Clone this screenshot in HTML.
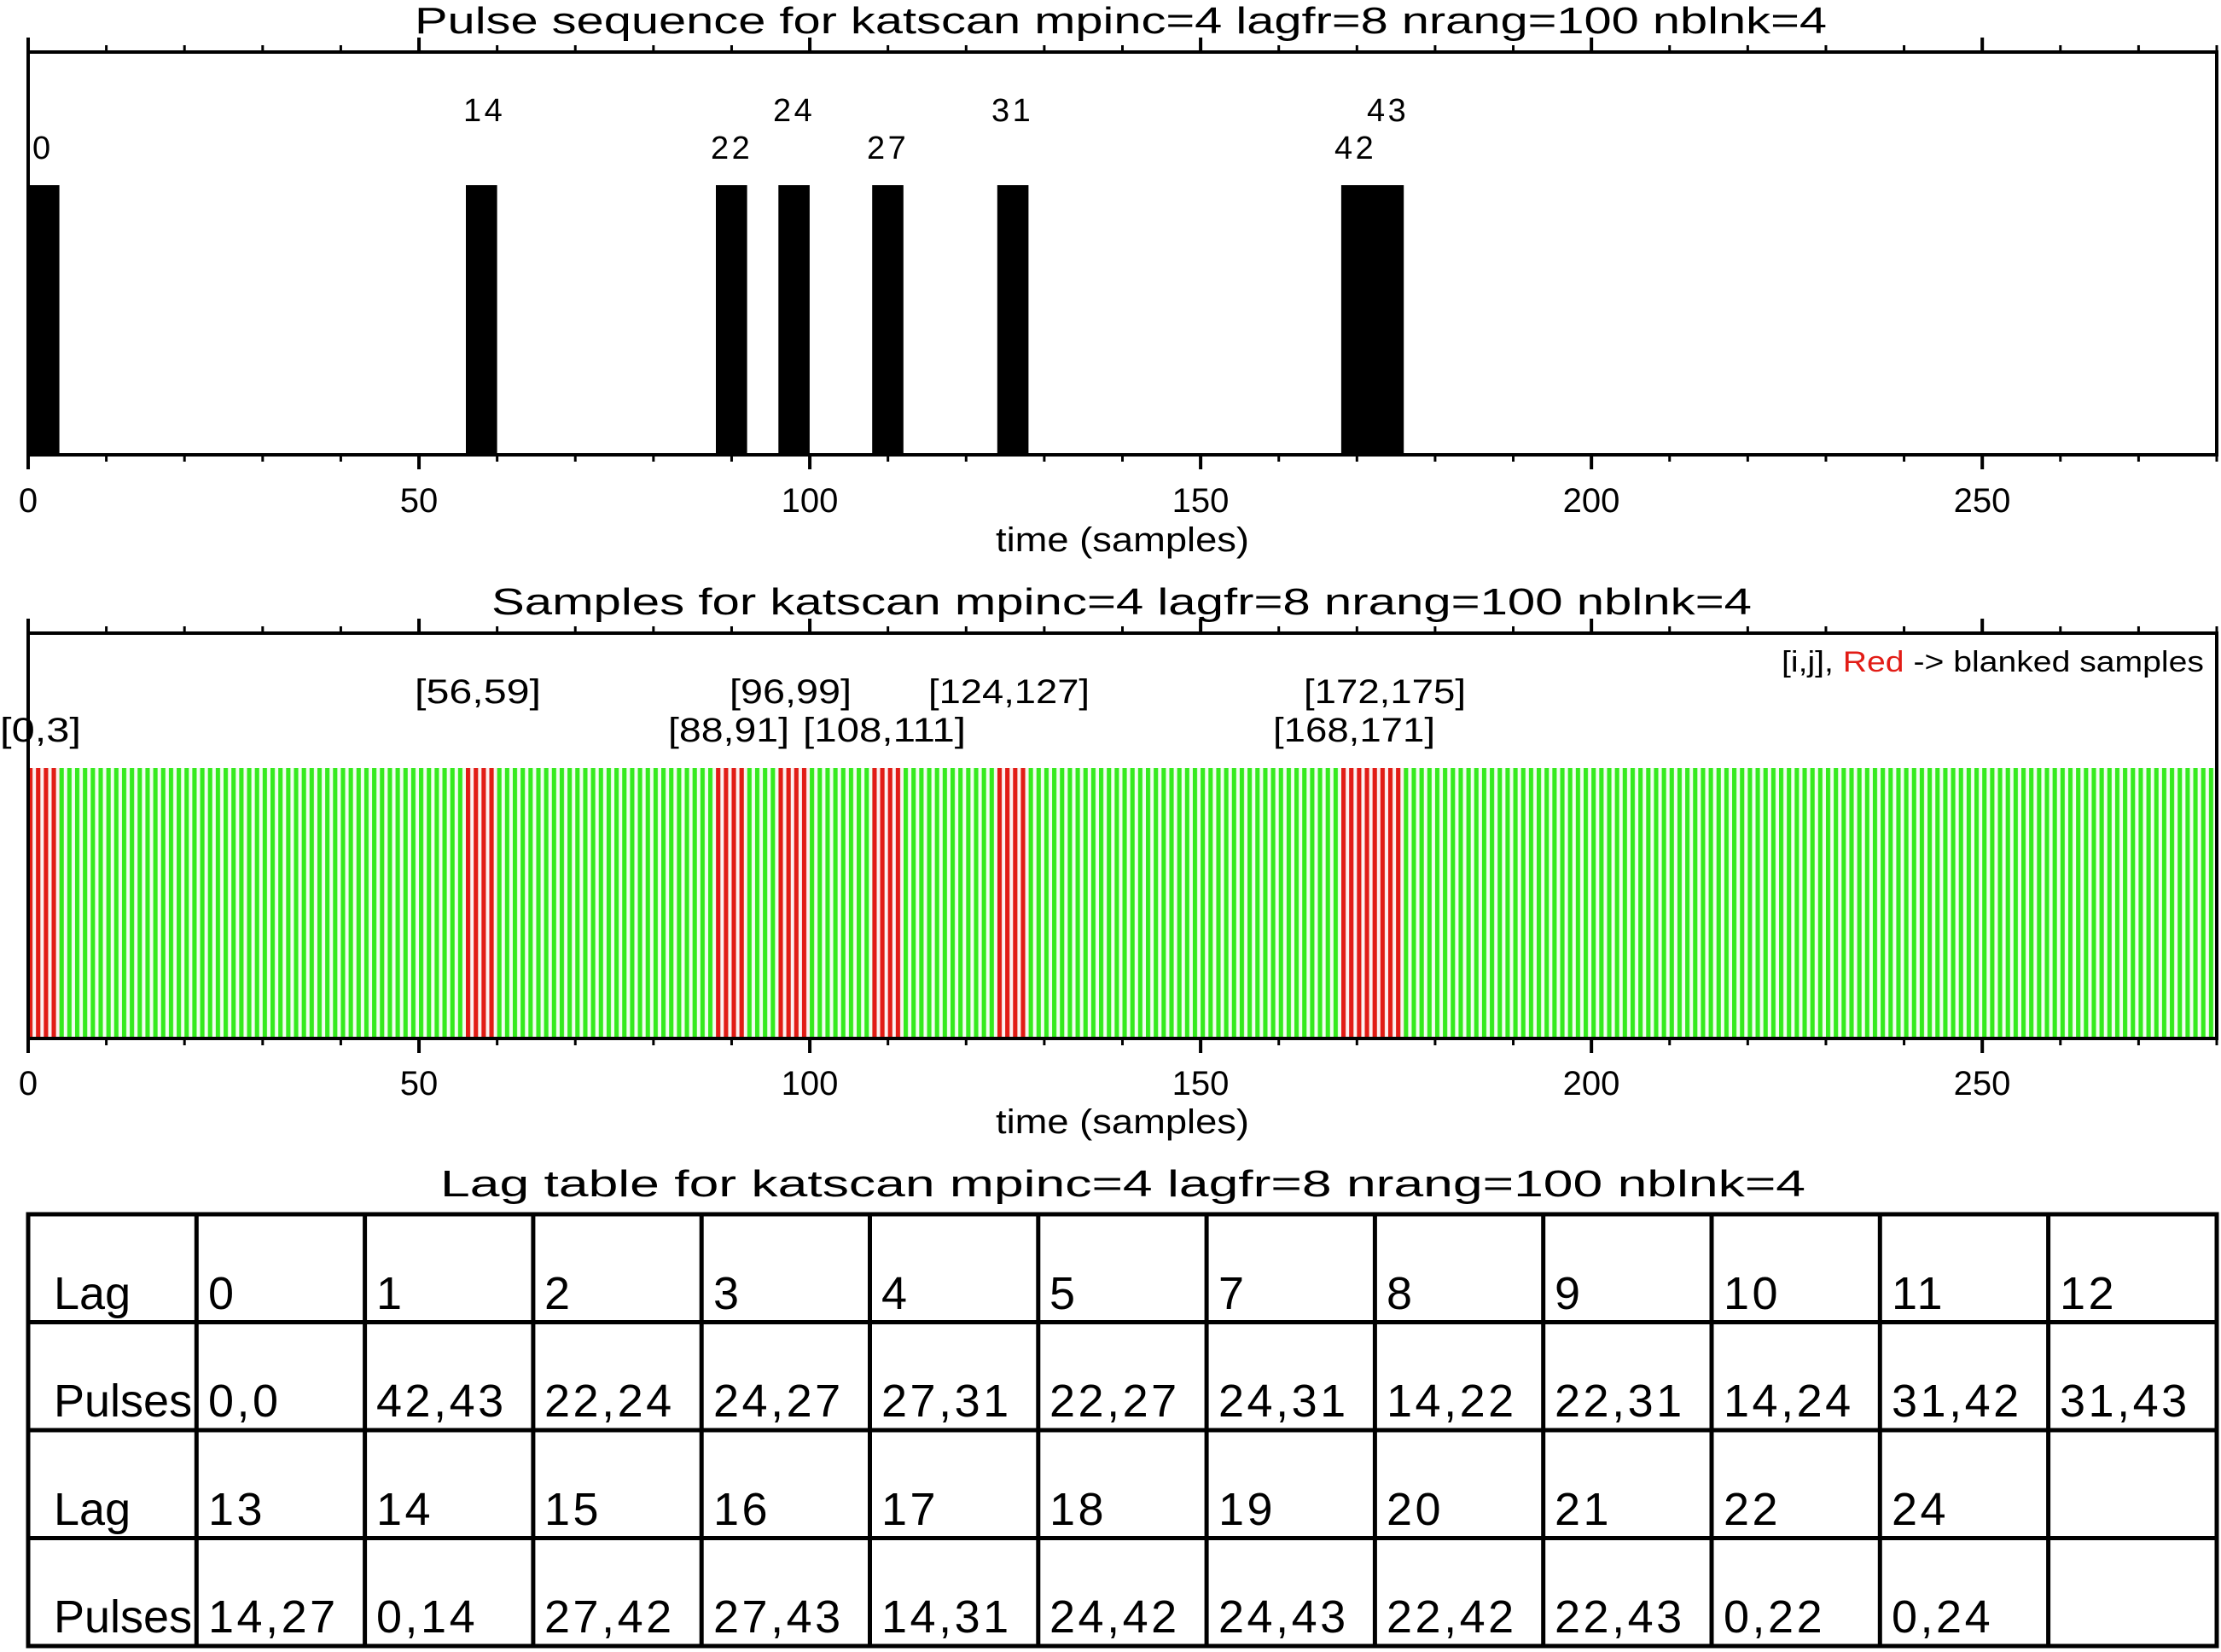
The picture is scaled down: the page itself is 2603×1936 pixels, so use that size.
<!DOCTYPE html>
<html><head><meta charset="utf-8"><style>
html,body{margin:0;padding:0;background:#fff;}
svg{display:block;}
text{font-family:"Liberation Sans",sans-serif;fill:#000;}
.n{letter-spacing:3.5px;}
</style></head><body>
<svg width="2603" height="1936" viewBox="0 0 2603 1936" xmlns="http://www.w3.org/2000/svg">
<defs>
<pattern id="g" x="33" y="0" width="9.1607" height="10" patternUnits="userSpaceOnUse"><rect x="0" y="0" width="5.2" height="10" fill="#35ea1e"/><rect x="5.2" y="0" width="3.96" height="10" fill="#f2fdf0"/></pattern>
<pattern id="r" x="33" y="0" width="9.1607" height="10" patternUnits="userSpaceOnUse"><rect x="0" y="0" width="5.2" height="10" fill="#e21c16"/><rect x="5.2" y="0" width="3.96" height="10" fill="#fdf0f0"/></pattern>
<pattern id="mn" x="31.5" y="0" width="91.607" height="10" patternUnits="userSpaceOnUse"><rect x="0" y="0" width="3" height="10" fill="#000"/></pattern>
<pattern id="mj" x="31" y="0" width="458.04" height="10" patternUnits="userSpaceOnUse"><rect x="0" y="0" width="4" height="10" fill="#000"/></pattern>
</defs>

<text x="486" y="39" font-size="44" textLength="1655" lengthAdjust="spacingAndGlyphs">Pulse sequence for katscan mpinc=4 lagfr=8 nrang=100 nblnk=4</text>
<g fill="#000">
<rect x="33" y="217" width="36.6" height="316"/>
<rect x="546" y="217" width="36.6" height="316"/>
<rect x="839" y="217" width="36.6" height="316"/>
<rect x="912.3" y="217" width="36.6" height="316"/>
<rect x="1022.2" y="217" width="36.6" height="316"/>
<rect x="1168.8" y="217" width="36.6" height="316"/>
<rect x="1571.9" y="217" width="73.3" height="316"/>
</g>
<rect x="33" y="61" width="2565" height="472" fill="none" stroke="#000" stroke-width="4"/>
<rect x="31" y="53" width="2570" height="8" fill="url(#mn)"/>
<rect x="31" y="44" width="2570" height="17" fill="url(#mj)"/>
<rect x="31" y="533" width="2570" height="8" fill="url(#mn)"/>
<rect x="31" y="533" width="2570" height="17" fill="url(#mj)"/>
<g font-size="38" class="n">
<text x="38" y="186">0</text>
<text x="543" y="142">14</text>
<text x="833" y="186">22</text>
<text x="906" y="142">24</text>
<text x="1016" y="186">27</text>
<text x="1162" y="142">31</text>
<text x="1564" y="186">42</text>
<text x="1602" y="142">43</text>
</g>
<g font-size="40" text-anchor="middle">
<text x="33" y="600">0</text>
<text x="491" y="600">50</text>
<text x="949" y="600">100</text>
<text x="1407" y="600">150</text>
<text x="1865" y="600">200</text>
<text x="2323" y="600">250</text>
</g>
<text x="1167" y="646" font-size="40" textLength="297" lengthAdjust="spacingAndGlyphs">time (samples)</text>

<text x="576" y="720" font-size="44" textLength="1477" lengthAdjust="spacingAndGlyphs">Samples for katscan mpinc=4 lagfr=8 nrang=100 nblnk=4</text>
<rect x="33" y="900" width="2563" height="317" fill="url(#g)"/>
<g fill="url(#r)">
<rect x="33" y="900" width="36.6" height="317"/>
<rect x="546" y="900" width="36.6" height="317"/>
<rect x="839" y="900" width="36.6" height="317"/>
<rect x="912.3" y="900" width="36.6" height="317"/>
<rect x="1022.2" y="900" width="36.6" height="317"/>
<rect x="1168.8" y="900" width="36.6" height="317"/>
<rect x="1571.9" y="900" width="73.3" height="317"/>
</g>
<rect x="33" y="742" width="2565" height="475" fill="none" stroke="#000" stroke-width="4"/>
<rect x="31" y="734" width="2570" height="8" fill="url(#mn)"/>
<rect x="31" y="725" width="2570" height="17" fill="url(#mj)"/>
<rect x="31" y="1217" width="2570" height="8" fill="url(#mn)"/>
<rect x="31" y="1217" width="2570" height="17" fill="url(#mj)"/>
<text x="2088" y="787" font-size="34" textLength="495" lengthAdjust="spacingAndGlyphs">[i,j], <tspan fill="#e21c16">Red</tspan> -&gt; blanked samples</text>
<g font-size="40">
<text x="0" y="869" textLength="95" lengthAdjust="spacingAndGlyphs">[0,3]</text>
<text x="486" y="824" textLength="148" lengthAdjust="spacingAndGlyphs">[56,59]</text>
<text x="783" y="869" textLength="142" lengthAdjust="spacingAndGlyphs">[88,91]</text>
<text x="855" y="824" textLength="143" lengthAdjust="spacingAndGlyphs">[96,99]</text>
<text x="941" y="869" textLength="191" lengthAdjust="spacingAndGlyphs">[108,111]</text>
<text x="1088" y="824" textLength="189" lengthAdjust="spacingAndGlyphs">[124,127]</text>
<text x="1492" y="869" textLength="190" lengthAdjust="spacingAndGlyphs">[168,171]</text>
<text x="1528" y="824" textLength="190" lengthAdjust="spacingAndGlyphs">[172,175]</text>
</g>
<g font-size="40" text-anchor="middle">
<text x="33" y="1283">0</text>
<text x="491" y="1283">50</text>
<text x="949" y="1283">100</text>
<text x="1407" y="1283">150</text>
<text x="1865" y="1283">200</text>
<text x="2323" y="1283">250</text>
</g>
<text x="1167" y="1328" font-size="40" textLength="297" lengthAdjust="spacingAndGlyphs">time (samples)</text>

<text x="516" y="1402" font-size="44" textLength="1600" lengthAdjust="spacingAndGlyphs">Lag table for katscan mpinc=4 lagfr=8 nrang=100 nblnk=4</text>
<g stroke="#000" stroke-width="5" fill="none">
<rect x="33" y="1423" width="2565" height="506"/>
<path d="M33 1549.5H2598M33 1676H2598M33 1802.5H2598
M230.3 1423V1929M427.6 1423V1929M624.9 1423V1929M822.2 1423V1929M1019.5 1423V1929M1216.8 1423V1929M1414.1 1423V1929M1611.4 1423V1929M1808.7 1423V1929M2006 1423V1929M2203.3 1423V1929M2400.6 1423V1929"/>
</g>
<g font-size="54">
<text x="63" y="1534">Lag</text>
<text x="63" y="1660">Pulses</text>
<text x="63" y="1787">Lag</text>
<text x="63" y="1913">Pulses</text>
</g>
<g font-size="54" class="n">
<text x="244" y="1534">0</text><text x="441" y="1534">1</text><text x="638" y="1534">2</text><text x="836" y="1534">3</text><text x="1033" y="1534">4</text><text x="1230" y="1534">5</text><text x="1428" y="1534">7</text><text x="1625" y="1534">8</text><text x="1822" y="1534">9</text><text x="2020" y="1534">10</text><text x="2217" y="1534">11</text><text x="2414" y="1534">12</text>
<text x="244" y="1660">0,0</text><text x="441" y="1660">42,43</text><text x="638" y="1660">22,24</text><text x="836" y="1660">24,27</text><text x="1033" y="1660">27,31</text><text x="1230" y="1660">22,27</text><text x="1428" y="1660">24,31</text><text x="1625" y="1660">14,22</text><text x="1822" y="1660">22,31</text><text x="2020" y="1660">14,24</text><text x="2217" y="1660">31,42</text><text x="2414" y="1660">31,43</text>
<text x="244" y="1787">13</text><text x="441" y="1787">14</text><text x="638" y="1787">15</text><text x="836" y="1787">16</text><text x="1033" y="1787">17</text><text x="1230" y="1787">18</text><text x="1428" y="1787">19</text><text x="1625" y="1787">20</text><text x="1822" y="1787">21</text><text x="2020" y="1787">22</text><text x="2217" y="1787">24</text>
<text x="244" y="1913">14,27</text><text x="441" y="1913">0,14</text><text x="638" y="1913">27,42</text><text x="836" y="1913">27,43</text><text x="1033" y="1913">14,31</text><text x="1230" y="1913">24,42</text><text x="1428" y="1913">24,43</text><text x="1625" y="1913">22,42</text><text x="1822" y="1913">22,43</text><text x="2020" y="1913">0,22</text><text x="2217" y="1913">0,24</text>
</g>
</svg>
</body></html>
